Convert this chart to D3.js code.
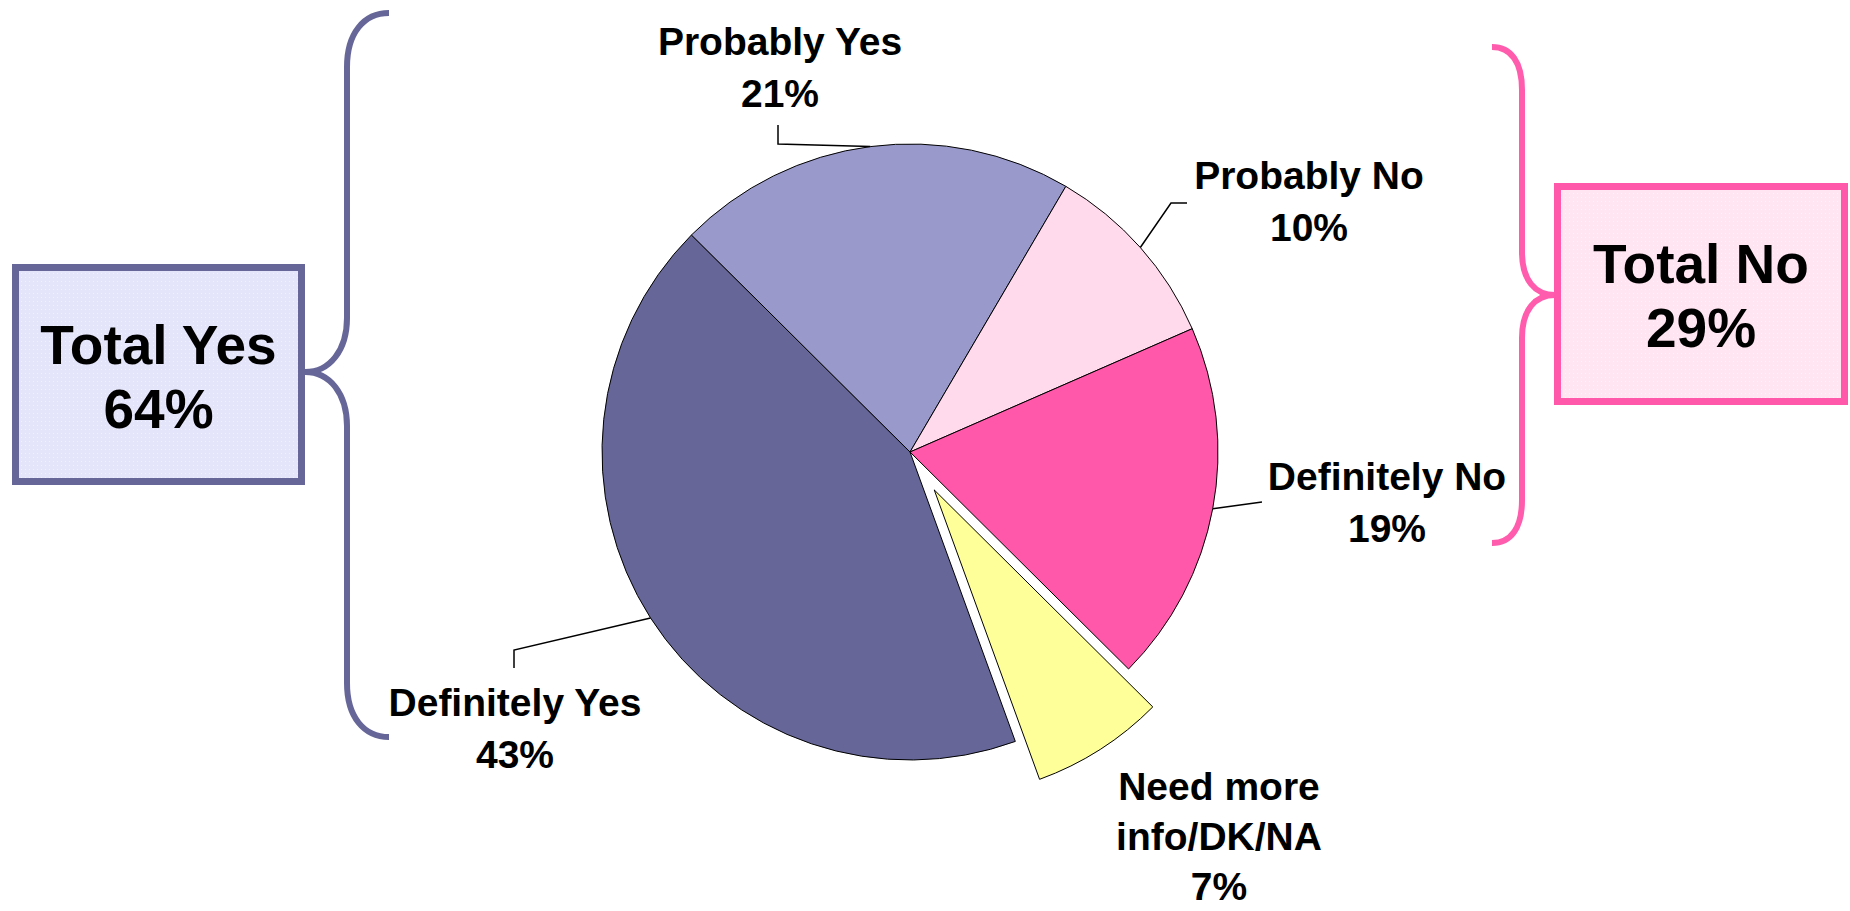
<!DOCTYPE html>
<html>
<head>
<meta charset="utf-8">
<script src="https://cdn.jsdelivr.net/npm/d3@7"></script>
<style>
  html, body { margin: 0; padding: 0; background: #fff; }
  text { font-family: "Liberation Sans", Arial, sans-serif; font-weight: bold; fill: #000; }
</style>
</head>
<body>
<div id="chart"></div>
<script>
// slices, clockwise from the lower left
var categories = ["Definitely Yes", "Probably Yes", "Probably No", "Definitely No", "Need more info/DK/NA"];
var values = [43, 21, 10, 19, 7];
var sliceColors = ["#666699", "#9999CC", "#FFD9EC", "#FF57AA", "#FFFF99"];
var labelLines = [["Definitely Yes"], ["Probably Yes"], ["Probably No"], ["Definitely No"], ["Need more", "info/DK/NA"]];

// totals shown in the side boxes
var groups = ["Total Yes", "Total No"];
var groupValues = [64, 29];

var width = 1850, height = 911;
var cx = 910, cy = 452, radius = 308;
var explodeIndex = 4, explodeDist = 45;

// label placement (center x, first baseline, line step) and leader elbows
var labelPos = [[515, 716, 52], [780, 55, 52], [1309, 189, 52], [1387, 490, 52], [1219, 800, 50]];
var leaderPts = [
    [[514, 650], [514, 668]],
    [[778, 144], [778, 125]],
    [[1171, 203], [1187, 203]],
    [[1262, 502]],
    null
];

var svg = d3.select('#chart').append('svg')
    .attr('width', width)
    .attr('height', height);

var defs = svg.append('defs');
// fine dotted texture like the original boxes
[["dotsYes", "#E4E4FA"], ["dotsNo", "#FFE4F1"]].forEach(function (p) {
    var pat = defs.append('pattern')
        .attr('id', p[0]).attr('width', 4).attr('height', 4)
        .attr('patternUnits', 'userSpaceOnUse');
    pat.append('rect').attr('width', 4).attr('height', 4).attr('fill', p[1]);
    pat.append('rect').attr('x', 1).attr('y', 1).attr('width', 1).attr('height', 1)
        .attr('fill', '#fff').attr('opacity', 0.5);
});

var pie = d3.pie()
    .sort(null)
    .startAngle(160 * Math.PI / 180)
    .endAngle((160 + 360) * Math.PI / 180);

var arcs = pie(values);

var arc = d3.arc().innerRadius(0).outerRadius(radius);
var edgeArc = d3.arc().innerRadius(radius).outerRadius(radius);

var plotArea = svg.append('g')
    .attr('transform', 'translate(' + cx + ',' + cy + ')');

// Draw slices
plotArea.selectAll('path.slice')
    .data(arcs)
    .enter().append('path')
    .attr('class', 'slice')
    .attr('d', arc)
    .attr('fill', function (d, i) { return sliceColors[i]; })
    .attr('stroke', '#000')
    .attr('stroke-width', 1)
    .attr('stroke-linejoin', 'round')
    .attr('transform', function (d, i) {
        if (i !== explodeIndex) return null;
        var a = (d.startAngle + d.endAngle) / 2;
        return 'translate(' + (Math.sin(a) * explodeDist) + ',' + (-Math.cos(a) * explodeDist) + ')';
    });

// leader lines
var line = d3.line();
arcs.forEach(function (d, i) {
    if (!leaderPts[i]) return;
    var c = edgeArc.centroid(d);
    var pts = [[cx + c[0], cy + c[1]]].concat(leaderPts[i]);
    svg.append('path')
        .attr('d', line(pts))
        .attr('fill', 'none')
        .attr('stroke', '#000')
        .attr('stroke-width', 1.5);
});

// slice labels
arcs.forEach(function (d, i) {
    var lines = labelLines[i].concat([values[i] + '%']);
    var t = svg.append('text')
        .attr('text-anchor', 'middle')
        .attr('font-size', 39);
    lines.forEach(function (s, k) {
        t.append('tspan')
            .attr('x', labelPos[i][0])
            .attr('y', labelPos[i][1] + k * labelPos[i][2])
            .text(s);
    });
});

// braces
svg.append('path')
    .attr('d', 'M389,13 C364,13 347,33 347,67 L347,318 C347,350 330,372 305,372 ' +
               'C330,372 347,394 347,426 L347,683 C347,717 364,737 389,737')
    .attr('fill', 'none').attr('stroke', '#666699').attr('stroke-width', 6);

svg.append('path')
    .attr('d', 'M1492,47 C1511,47 1522,62 1522,90 L1522,252 C1522,280 1535,295 1555,295 ' +
               'C1535,295 1522,310 1522,338 L1522,500 C1522,528 1511,543 1492,543')
    .attr('fill', 'none').attr('stroke', '#FF5CAD').attr('stroke-width', 6);

// total boxes
var boxes = [
    { x: 12, y: 264, w: 293, h: 221, stroke: '#666699', fill: 'url(#dotsYes)' },
    { x: 1554, y: 183, w: 294, h: 222, stroke: '#FF57AA', fill: 'url(#dotsNo)' }
];
boxes.forEach(function (b, i) {
    svg.append('rect')
        .attr('x', b.x + 3.5).attr('y', b.y + 3.5)
        .attr('width', b.w - 7).attr('height', b.h - 7)
        .attr('fill', b.fill)
        .attr('stroke', b.stroke)
        .attr('stroke-width', 7);
    var t = svg.append('text')
        .attr('text-anchor', 'middle')
        .attr('font-size', 55);
    var mx = b.x + b.w / 2, my = b.y + b.h / 2;
    t.append('tspan').attr('x', mx).attr('y', my - 11).text(groups[i]);
    t.append('tspan').attr('x', mx).attr('y', my + 53).text(groupValues[i] + '%');
});
</script>
</body>
</html>
